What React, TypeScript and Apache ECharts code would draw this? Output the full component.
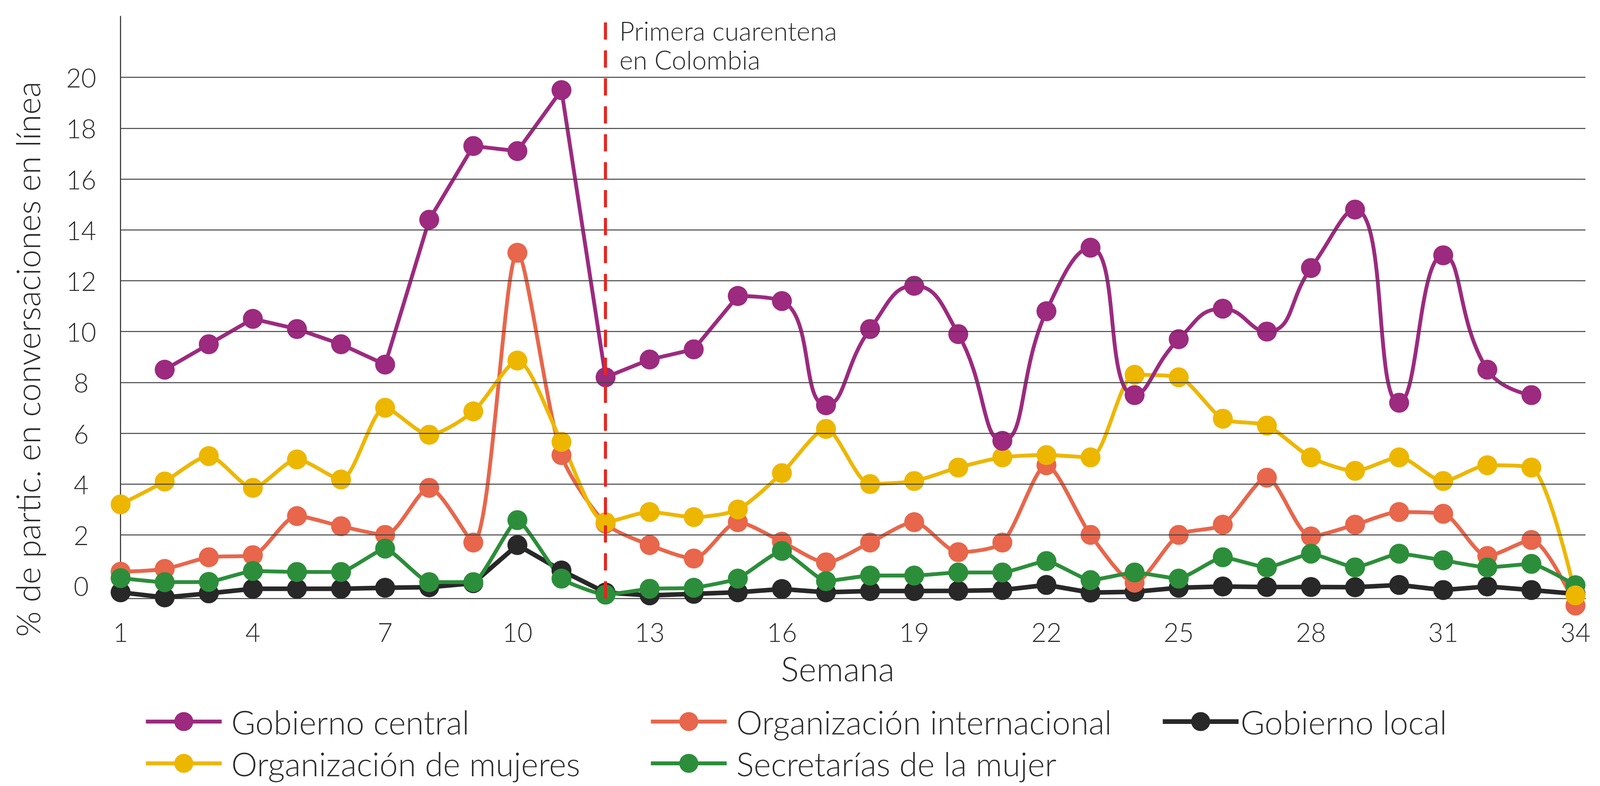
import React, { useEffect, useRef } from 'react';
import * as echarts from 'echarts';

const weeks = [1, 2, 3, 4, 5, 6, 7, 8, 9, 10, 11, 12, 13, 14, 15, 16, 17, 18, 19, 20, 21, 22, 23, 24, 25, 26, 27, 28, 29, 30, 31, 32, 33, 34];
const xTickLabels = [1, 4, 7, 10, 13, 16, 19, 22, 25, 28, 31, 34];
const yTickLabels = [0, 2, 4, 6, 8, 10, 12, 14, 16, 18, 20];
const yGridValues = [2, 4, 6, 8, 10, 12, 14, 16, 18, 20];
const quarantineWeek = 12;

const gobiernoCentral = [null, 8.5, 9.5, 10.5, 10.1, 9.5, 8.7, 14.4, 17.3, 17.1, 19.5, 8.2, 8.9, 9.3, 11.4, 11.2, 7.1, 10.1, 11.8, 9.9, 5.7, 10.8, 13.3, 7.5, 9.7, 10.9, 10.0, 12.5, 14.8, 7.2, 13.0, 8.5, 7.5, null];
const orgMujeres = [3.2, 4.1, 5.1, 3.85, 4.97, 4.18, 7.0, 5.94, 6.86, 8.86, 5.66, 2.5, 2.9, 2.7, 3.0, 4.43, 6.17, 4.0, 4.12, 4.65, 5.05, 5.14, 5.05, 8.3, 8.2, 6.57, 6.3, 5.05, 4.52, 5.05, 4.12, 4.74, 4.65, -0.38];
const orgInternacional = [0.55, 0.66, 1.12, 1.2, 2.74, 2.34, 2.0, 3.85, 1.7, 13.1, 5.14, 2.45, 1.6, 1.07, 2.5, 1.73, 0.92, 1.7, 2.5, 1.32, 1.7, 4.74, 2.0, 0.12, 2.0, 2.4, 4.25, 1.94, 2.4, 2.9, 2.83, 1.17, 1.8, -0.78];
const secretarias = [0.3, 0.14, 0.15, 0.58, 0.54, 0.54, 1.46, 0.14, 0.14, 2.58, 0.28, -0.35, -0.12, -0.08, 0.28, 1.37, 0.18, 0.4, 0.4, 0.52, 0.52, 0.97, 0.22, 0.52, 0.28, 1.12, 0.72, 1.26, 0.72, 1.26, 1.0, 0.72, 0.86, 0.02];
const gobiernoLocal = [-0.26, -0.46, -0.3, -0.12, -0.12, -0.12, -0.08, -0.06, 0.1, 1.6, 0.6, -0.27, -0.38, -0.32, -0.26, -0.13, -0.26, -0.21, -0.21, -0.2, -0.17, 0.03, -0.27, -0.24, -0.08, -0.03, -0.05, -0.05, -0.06, 0.03, -0.17, -0.03, -0.17, -0.32];

const names = {
  central: 'Gobierno central',
  internacional: 'Organización internacional',
  local: 'Gobierno local',
  mujeres: 'Organización de mujeres',
  secretarias: 'Secretarías de la mujer',
};

const colors = {
  central: '#9C2A7F',
  internacional: '#E8664B',
  local: '#282828',
  mujeres: '#EDB700',
  secretarias: '#2C8E3A',
  red: '#E52620',
  grid: '#404040',
  text: '#2B2B2B',
};

const FONT = 'Lato, "Open Sans", "DejaVu Sans", sans-serif';
const WEIGHT = 300;

function pairs(vals: (number | null)[], from = 1, to = 34) {
  return weeks
    .map((w, i) => [w, vals[i]] as [number, number | null])
    .filter((p) => p[1] !== null && p[0] >= from && p[0] <= to);
}

export default function App() {
  const ref = useRef<HTMLDivElement>(null);

  useEffect(() => {
    const el = ref.current as HTMLDivElement;
    const W = el.clientWidth || 4179;
    const H = el.clientHeight || 2013;
    const sx = W / 4179;
    const sy = H / 2013;
    const s = Math.min(sx, sy);
    const X = (v: number) => v * sx;
    const Y = (v: number) => v * sy;
    const F = (v: number) => v * s;

    const chart = echarts.init(el, null, { renderer: 'svg' });

    const lineSeries = (name: string, color: string, data: any[], smooth: number | boolean, width = 10) => ({
      type: 'line',
      name,
      data,
      smooth,
      clip: false,
      symbol: 'circle',
      symbolSize: F(52),
      showSymbol: true,
      lineStyle: { color, width: F(width) },
      itemStyle: { color },
      emphasis: { disabled: true },
      z: 3,
    });

    const legendText = { fontSize: F(86), lineHeight: F(70), color: colors.text, fontFamily: FONT, fontWeight: WEIGHT };
    const legendBase = {
      orient: 'horizontal',
      itemWidth: F(198),
      itemHeight: F(62),
      padding: 0,
      selectedMode: false,
      lineStyle: { width: F(10) },
      textStyle: { ...legendText, padding: [0, 0, 0, F(20)] },
    };
    const row1 = Y(1841 - 35);
    const row2 = Y(1948 - 35);

    const option: any = {
      animation: false,
      backgroundColor: '#ffffff',
      grid: {
        left: X(315),
        top: Y(42),
        width: X(3826),
        height: Y(1490.6),
        containLabel: false,
        outerBoundsMode: 'none',
      },
      xAxis: {
        type: 'value',
        min: 1,
        max: 34.226,
        axisLine: { show: true, onZero: false, lineStyle: { color: colors.grid, width: F(2.5) } },
        axisTick: { show: false },
        splitLine: { show: false },
        axisLabel: {
          customValues: xTickLabels,
          margin: Y(52),
          fontSize: F(68),
          color: colors.text,
          fontFamily: FONT,
          fontWeight: WEIGHT,
        },
      },
      yAxis: {
        type: 'value',
        min: -0.5,
        max: 22.4,
        axisLine: { show: true, onZero: false, lineStyle: { color: colors.grid, width: F(3) } },
        axisTick: { show: false },
        splitLine: { show: false },
        axisLabel: {
          customValues: yTickLabels,
          margin: X(103),
          align: 'center',
          fontSize: F(68),
          color: colors.text,
          fontFamily: FONT,
          fontWeight: WEIGHT,
        },
      },
      legend: [
        { ...legendBase, data: [names.central], left: X(376), top: row1 },
        { ...legendBase, data: [names.internacional], left: X(1695), top: row1 },
        { ...legendBase, data: [names.local], left: X(3031), top: row1, lineStyle: { width: F(12) }, textStyle: { ...legendText, padding: [0, 0, 0, 0] } },
        { ...legendBase, data: [names.mujeres], left: X(376), top: row2 },
        { ...legendBase, data: [names.secretarias], left: X(1695), top: row2 },
      ],
      graphic: [
        {
          type: 'text',
          x: X(72),
          y: Y(920),
          rotation: Math.PI / 2,
          style: {
            text: '% de partic. en conversaciones en línea',
            fontSize: F(86),
            fontFamily: FONT,
            fontWeight: WEIGHT,
            fill: colors.text,
            textAlign: 'center',
            textVerticalAlign: 'middle',
          },
        },
        {
          type: 'text',
          x: X(2188),
          y: Y(1711),
          style: {
            text: 'Semana',
            fontSize: F(88),
            fontFamily: FONT,
            fontWeight: WEIGHT,
            fill: colors.text,
            textAlign: 'center',
            textVerticalAlign: 'middle',
          },
        },
        {
          type: 'text',
          x: X(1618),
          y: Y(115),
          style: {
            text: 'Primera cuarentena\nen Colombia',
            fontSize: F(68),
            lineHeight: F(75),
            fontFamily: FONT,
            fontWeight: WEIGHT,
            fill: colors.text,
            textAlign: 'left',
            textVerticalAlign: 'middle',
          },
        },
      ],
      series: [
        {
          type: 'line',
          name: 'guides',
          data: [],
          silent: true,
          z: 1,
          markLine: {
            silent: true,
            symbol: ['none', 'none'],
            label: { show: false },
            emphasis: { disabled: true },
            data: [
              ...yGridValues.map((v) => ({ yAxis: v, lineStyle: { color: colors.grid, width: F(2.5), type: 'solid' } })),
              { xAxis: quarantineWeek, lineStyle: { color: colors.red, width: F(8), type: [F(45), F(28)] } },
            ],
          },
        },
        lineSeries(names.local, colors.local, pairs(gobiernoLocal), false, 12),
        lineSeries(names.internacional, colors.internacional, pairs(orgInternacional), 0.25),
        lineSeries(names.secretarias, colors.secretarias, pairs(secretarias), 0.15),
        lineSeries(names.mujeres, colors.mujeres, pairs(orgMujeres), 0.25),
        lineSeries(names.central, colors.central, pairs(gobiernoCentral, 1, 15), false),
        lineSeries(names.central, colors.central, pairs(gobiernoCentral, 15, 34), 0.5),
      ],
    };

    chart.setOption(option);
    return () => chart.dispose();
  }, []);

  return (
    <div
      ref={ref}
      style={{ position: 'fixed', left: 0, top: 0, width: '100vw', height: '100vh', background: '#ffffff' }}
    />
  );
}
